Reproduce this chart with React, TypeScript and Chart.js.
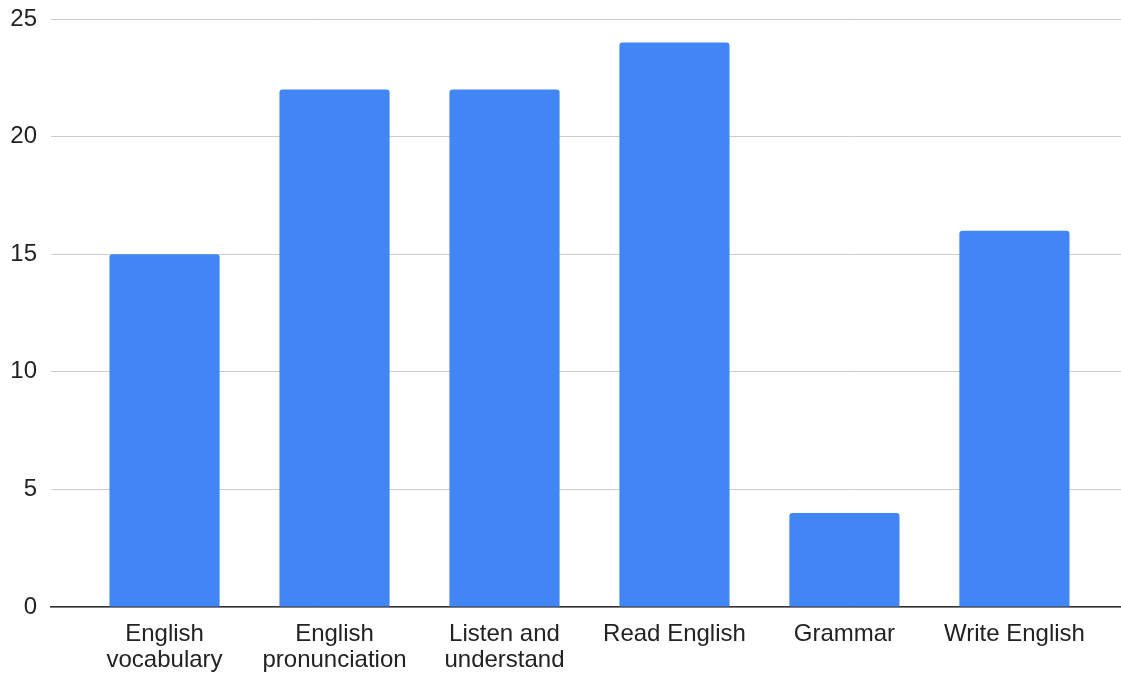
import React, { useEffect, useRef } from "react";
import { Chart, registerables } from "chart.js";

Chart.register(...registerables);

// Skill areas (multi-line tick labels) and their counts
const categories: string[][] = [
  ["English", "vocabulary"],
  ["English", "pronunciation"],
  ["Listen and", "understand"],
  ["Read English"],
  ["Grammar"],
  ["Write English"],
];
const counts: number[] = [15, 22, 22, 24, 4, 16];
const yTicks: number[] = [0, 5, 10, 15, 20, 25];

const FONT = "'Liberation Sans', Arial, sans-serif";

export default function App() {
  const canvasRef = useRef<HTMLCanvasElement | null>(null);

  useEffect(() => {
    const canvas = canvasRef.current;
    if (!canvas) return;
    const chart = new Chart(canvas, {
      type: "bar",
      data: {
        datasets: [
          {
            data: counts.map((v, i) => ({ x: i, y: v })),
            backgroundColor: "#4285F4",
            borderRadius: 3,
            borderSkipped: "start",
            barPercentage: 0.648,
            categoryPercentage: 1,
          },
        ],
      },
      options: {
        animation: false,
        responsive: true,
        maintainAspectRatio: false,
        layout: { padding: { top: 0, left: 10, right: 0, bottom: 2 } },
        plugins: {
          legend: { display: false },
          tooltip: { enabled: false },
        },
        scales: {
          x: {
            type: "linear",
            min: -0.668,
            max: 5.627,
            offset: false,
            afterFit: (scale: any) => {
              scale.height = 66;
            },
            grid: { display: false, drawTicks: false },
            border: { display: true, color: "#333333", width: 1.5 },
            ticks: {
              stepSize: 1,
              includeBounds: false,
              autoSkip: false,
              maxRotation: 0,
              minRotation: 0,
              padding: 14,
              color: "#222222",
              font: { family: FONT, size: 24, lineHeight: 1.1 },
              callback: (v: any) =>
                Number.isInteger(v) && categories[v] ? categories[v] : "",
            },
          },
          y: {
            min: yTicks[0],
            max: yTicks[yTicks.length - 1],
            afterBuildTicks: (scale: any) => {
              scale.ticks = yTicks.map((value) => ({ value }));
            },
            afterFit: (scale: any) => {
              scale.width = 41;
              scale.paddingTop = 19;
              scale.paddingBottom = 0;
            },
            grid: {
              drawTicks: false,
              color: "#cccccc",
              lineWidth: 1,
            },
            border: { display: false },
            ticks: {
              padding: 14,
              color: "#222222",
              font: { family: FONT, size: 24 },
            },
          },
        },
      },
    });
    return () => chart.destroy();
  }, []);

  return (
    <div
      style={{
        position: "absolute",
        left: 0,
        top: 0,
        width: 1121,
        height: 675,
        background: "#ffffff",
      }}
    >
      <canvas ref={canvasRef} />
    </div>
  );
}
